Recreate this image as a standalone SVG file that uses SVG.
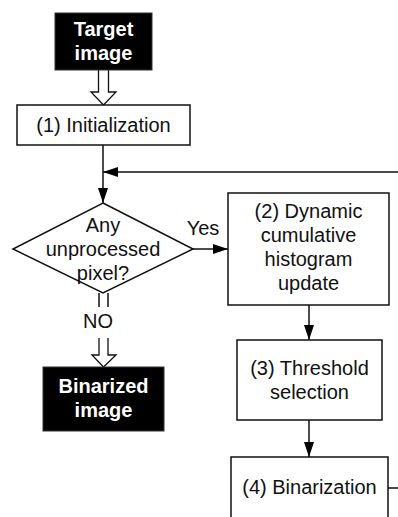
<svg xmlns="http://www.w3.org/2000/svg" width="398" height="517" viewBox="0 0 398 517">
  <style>
    .box { fill: #fff; stroke: #111; stroke-width: 1.5; }
    .term { fill: #000; stroke: #333; stroke-width: 1; }
    .lbl { font-family: "Liberation Sans", Arial, sans-serif; font-size: 20px; fill: #111; text-anchor: middle; }
    .tlbl { font-family: "Liberation Sans", Arial, sans-serif; font-size: 20px; font-weight: bold; fill: #fff; text-anchor: middle; }
    .wire { fill: none; stroke: #111; stroke-width: 1.5; }
    .hollow { fill: #fff; stroke: #111; stroke-width: 1.3; stroke-linejoin: miter; }
  </style>
  <defs>
    <marker id="arrow" viewBox="0 0 15 10" markerWidth="15" markerHeight="10" refX="15" refY="5" orient="auto" markerUnits="userSpaceOnUse">
      <path d="M0,0 L15,5 L0,10 Z" fill="#000"/>
    </marker>
  </defs>
  <rect width="398" height="517" fill="#fff"/>

  <!-- connectors -->
  <g id="connectors">
    <!-- loop back from step (4) into the main flow -->
    <path class="wire" d="M388,488 H398"/>
    <path class="wire" d="M398,172 H103" marker-end="url(#arrow)"/>
    <path class="wire" d="M103,145 V203" marker-end="url(#arrow)"/>
    <path class="wire" d="M193,249 H228" marker-end="url(#arrow)"/>
    <path class="wire" d="M309,305 V340" marker-end="url(#arrow)"/>
    <path class="wire" d="M309,420 V457" marker-end="url(#arrow)"/>
    <!-- hollow block arrows -->
    <path class="hollow" d="M98.5,70 V92 H91 L103.5,105 L116,92 H108.5 V70"/>
    <path class="wire" d="M99,293 V307 M108,293 V307" stroke-width="1.3"/>
    <path class="hollow" d="M99,338 V355 H92 L103.5,367 L116,355 H108 V338"/>
    <text class="lbl" x="98" y="328" font-size="19">NO</text>
    <text class="lbl" x="203" y="235">Yes</text>
  </g>

  <g id="target-image">
    <rect class="term" x="55" y="13" width="97" height="57"/>
    <text class="tlbl" x="103.5" y="36">Target</text>
    <text class="tlbl" x="103.5" y="60">image</text>
  </g>

  <g id="initialization">
    <rect class="box" x="17" y="105" width="173" height="40"/>
    <text class="lbl" x="103.5" y="132">(1) Initialization</text>
  </g>

  <g id="decision">
    <path class="box" d="M103,203 L193,249 L103,293 L13,249 Z"/>
    <text class="lbl" x="103" y="232">Any</text>
    <text class="lbl" x="103" y="256">unprocessed</text>
    <text class="lbl" x="103" y="280">pixel?</text>
  </g>

  <g id="histogram-update">
    <rect class="box" x="228" y="193" width="161" height="112"/>
    <text class="lbl" x="308.5" y="218">(2) Dynamic</text>
    <text class="lbl" x="308.5" y="242">cumulative</text>
    <text class="lbl" x="308.5" y="266">histogram</text>
    <text class="lbl" x="308.5" y="290">update</text>
  </g>

  <g id="threshold-selection">
    <rect class="box" x="237" y="340" width="145" height="80"/>
    <text class="lbl" x="309.5" y="375">(3) Threshold</text>
    <text class="lbl" x="309.5" y="399">selection</text>
  </g>

  <g id="binarization">
    <rect class="box" x="231" y="457" width="157" height="80"/>
    <text class="lbl" x="309.5" y="494">(4) Binarization</text>
  </g>

  <g id="binarized-image">
    <rect class="term" x="43" y="367" width="121" height="64"/>
    <text class="tlbl" x="103.5" y="393">Binarized</text>
    <text class="tlbl" x="103.5" y="417">image</text>
  </g>
</svg>
